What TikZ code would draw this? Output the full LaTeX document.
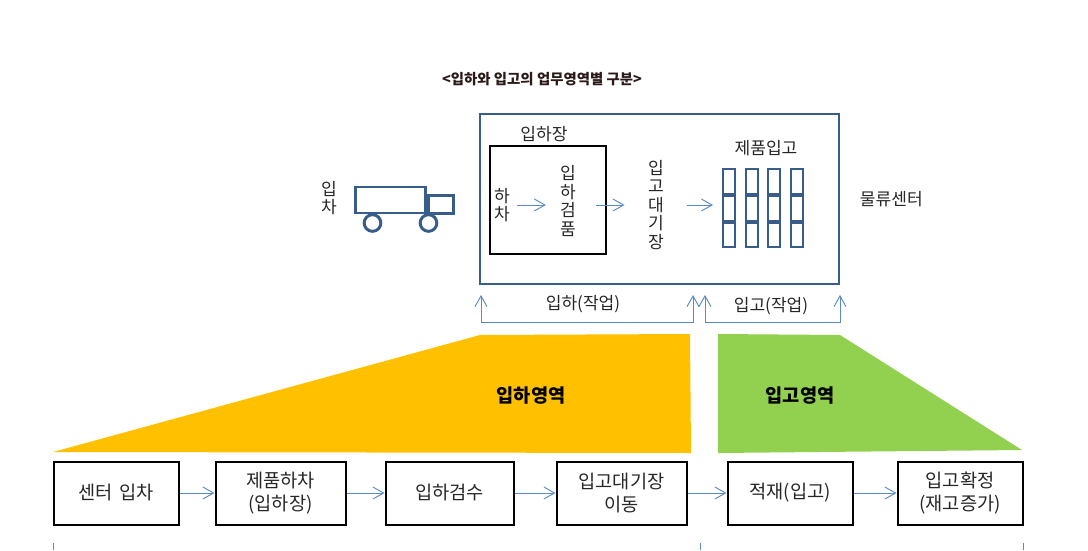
\documentclass[tikz,border=0pt]{standalone}
\usepackage{fontspec}
\setmainfont{Noto Sans CJK KR}
\usepackage{xcolor}
\usepackage{tikz}
\usetikzlibrary{arrows.meta,positioning}
\definecolor{framenavy}{HTML}{385D8A}
\definecolor{arrowblue}{HTML}{5B8AC6}
\definecolor{areaorange}{HTML}{FFC000}
\definecolor{areagreen}{HTML}{92D050}
\definecolor{titledark}{HTML}{2A1A1A}

\begin{document}
\begin{tikzpicture}[
  x=0.75pt, y=-0.75pt,
  lbl/.style={align=center, inner sep=0pt, font=\fontsize{12.8}{13.9}\selectfont, text=black!85},
  procbox/.style={draw=black, line width=1.5pt, minimum height=47.25pt, inner sep=0pt, align=center, font=\fontsize{14}{17}\selectfont, text=black!85},
  rack/.style={draw=framenavy, line width=1.5pt, minimum width=9pt, minimum height=18.5pt, inner sep=0pt},
  truckpart/.style={draw=framenavy, line width=2.2pt, inner sep=0pt, fill=white},
  wheel/.style={draw=framenavy, line width=2.2pt, circle, minimum size=12.5pt, inner sep=0pt, fill=white},
  arr/.style={-{Straight Barb[length=8pt,width=9pt]}, line width=0.7pt, arrowblue},
  twoarr/.style={{Straight Barb[length=8pt,width=9pt]}-{Straight Barb[length=8pt,width=9pt]}, line width=0.7pt, arrowblue},
  tickmark/.style={line width=0.7pt, arrowblue}
]
  \useasboundingbox (0,0) rectangle (1088,550);

  \node[font=\fontsize{10.8}{12}\selectfont\bfseries, text=titledark, inner sep=0pt] (title) at (542,79) {<입하와 입고의 업무영역별 구분>};

  % truck
  \node[lbl] (arrive) at (329,198) {입\\차};
  \node[truckpart, minimum width=52.5pt, minimum height=19.5pt] (cargo) at (390.5,200) {};
  \node[truckpart, minimum width=18.75pt, minimum height=13pt] (cabin) at (441,204.5) {};
  \node[wheel] (wheelA) at (372.5,223) {};
  \node[wheel] (wheelB) at (428.5,223) {};

  % center
  \node[draw=framenavy, line width=1.5pt, minimum width=268.75pt, minimum height=127pt, inner sep=0pt] (center) at (659.5,199) {};
  \node[right=15pt of center, lbl] (centername) {물류센터};
  \node[draw=black, line width=1.5pt, minimum width=87pt, minimum height=80.5pt, inner sep=0pt] (dock) at (547.5,200) {};
  \node[lbl] (dockname) at (544,134) {입하장};
  \node[lbl, inner xsep=5.5pt] (unload) at (502,205) {하\\차};
  \node[lbl, inner xsep=10.5pt] (check) at (568,201) {입\\하\\검\\품};
  \node[lbl, inner xsep=17.5pt] (wait) at (656,205) {입\\고\\대\\기\\장};
  \node[lbl] (stockname) at (766,148) {제품입고};

  \node[rack] (rackAa) at (729,181.5) {};
  \node[rack, below=0pt of rackAa] (rackAb) {};
  \node[rack, below=0pt of rackAb] (rackAc) {};
  \node[rack] (rackBa) at (752,181.5) {};
  \node[rack, below=0pt of rackBa] (rackBb) {};
  \node[rack, below=0pt of rackBb] (rackBc) {};
  \node[rack] (rackCa) at (774,181.5) {};
  \node[rack, below=0pt of rackCa] (rackCb) {};
  \node[rack, below=0pt of rackCb] (rackCc) {};
  \node[rack] (rackDa) at (797,181.5) {};
  \node[rack, below=0pt of rackDa] (rackDb) {};
  \node[rack, below=0pt of rackDb] (rackDc) {};

  \draw[arr] (unload.east) -- (unload.east -| check.west);
  \draw[arr, shorten <=4.5pt] (check.east |- wait.west) -- (wait.west);
  \draw[arr, shorten >=6.75pt] (wait.east) -- (wait.east -| rackAb.west);

  % work brackets
  \node[lbl] (inwork) at (583,304) {입하(작업)};
  \node[lbl] (stowwork) at (771,306) {입고(작업)};
  \coordinate (inL) at (481,295);
  \coordinate (inR) at (693,295);
  \coordinate (stowL) at (705,295);
  \coordinate (stowR) at (840,295);
  \draw[twoarr] (inL) -- (481,322) -- (693,322) -- (inR);
  \draw[twoarr] (stowL) -- (705,322) -- (840,322) -- (stowR);

  % areas
  \fill[areaorange] (53,452) -- (480,335) -- (690,334) -- (691,453) -- cycle;
  \fill[areagreen] (718,334) -- (840,335) -- (1022,450) -- (718,453) -- cycle;
  \node[font=\fontsize{14}{16}\selectfont\bfseries, inner sep=0pt] (inarea) at (531,396) {입하영역};
  \node[font=\fontsize{14}{16}\selectfont\bfseries, inner sep=0pt] (stowarea) at (800,396) {입고영역};

  % process row
  \node[procbox, minimum width=93.75pt] (enter) at (116,493) {센터\hspace{0.1em} 입차};
  \node[procbox, minimum width=97.5pt, right=26.25pt of enter] (unloadbox) {제품하차\\(입하장)};
  \node[procbox, minimum width=96pt, right=28.5pt of unloadbox] (inspect) {입하검수};
  \node[procbox, minimum width=97.5pt, right=30.75pt of inspect] (move) {입고대기장\\이동};
  \node[procbox, minimum width=93.75pt, right=29.25pt of move] (stow) {적재(입고)};
  \node[procbox, minimum width=93.75pt, right=32.25pt of stow] (confirm) {입고확정\\(재고증가)};

  \draw[arr] (enter) -- (unloadbox);
  \draw[arr] (unloadbox) -- (inspect);
  \draw[arr] (inspect) -- (move);
  \draw[arr] (move) -- (stow);
  \draw[arr] (stow) -- (confirm);

  \draw[tickmark] (53.5,543) -- (53.5,550);
  \draw[tickmark] (700.5,543) -- (700.5,550);
  \draw[tickmark] (1023.5,543) -- (1023.5,550);
\end{tikzpicture}
\end{document}
